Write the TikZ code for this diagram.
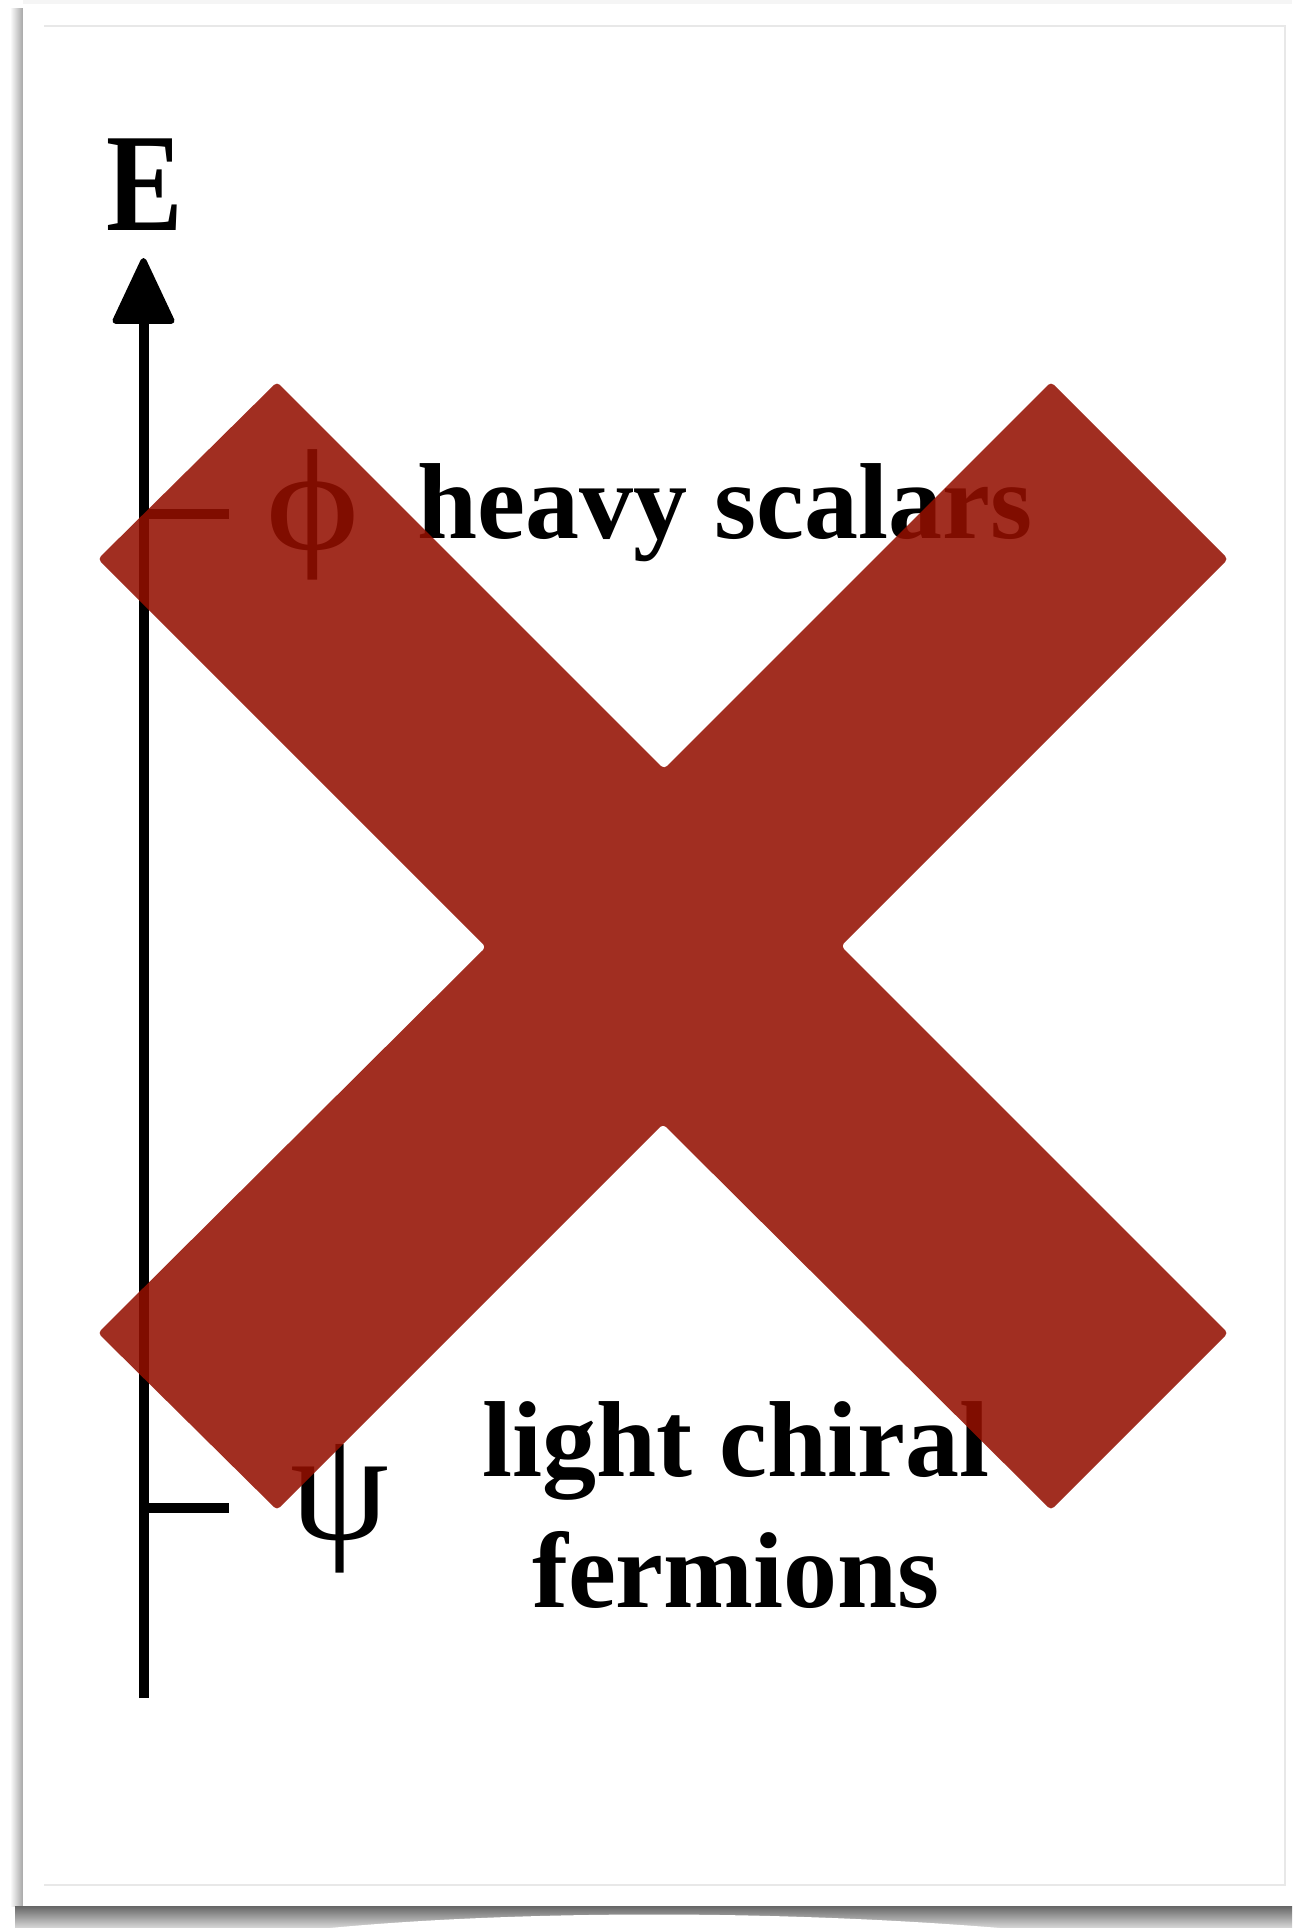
\documentclass[tikz,border=0pt]{standalone}
\usepackage{fontspec}
\setmainfont{Liberation Serif}
\usetikzlibrary{arrows.meta}
\definecolor{xred}{RGB}{148,15,0}
\definecolor{faint}{RGB}{232,232,232}
\tikzset{
  axisline/.style={line width=5pt,black},
  tickline/.style={line width=5pt,black},
  bigtext/.style={font=\fontsize{54}{65}\selectfont\bfseries,inner sep=0pt},
  greek/.style={inner sep=0pt},
  crossmark/.style={fill=xred,fill opacity=0.87,draw=none,rounded corners=2pt}
}
\begin{document}
\begin{tikzpicture}[x=0.5pt,y=-0.5pt]
\useasboundingbox (0,0) rectangle (1292,1928);
% shadow and card
\fill[white] (0,0) rectangle (1292,1928);
\shade[left color=white,right color=black!35] (10,8) rectangle (23,1906);
\shade[top color=black!60,bottom color=black!15] (15,1906) rectangle (1292,1928);
\fill[white] (330,1928) .. controls (520,1910) and (780,1910) .. (1000,1928) -- cycle;
\fill[black!4] (23,0) rectangle (1292,4);
\fill[white] (23,4) rectangle (1292,1906);
\draw[faint,line width=0.6pt] (44,26) -- (1285,26) -- (1285,1885) -- (44,1885);
% axis
\coordinate (axbot) at (143.5,1698);
\coordinate (axtop) at (143.5,258);
\draw[axisline,-{Triangle[length=35pt,width=32pt,round,line width=3pt]}] (axbot) -- (axtop);
\node[font=\fontsize{70}{80}\selectfont\bfseries,inner sep=0pt,anchor=base] (E) at (145,230) {\scalebox{0.82}[1]{E}};
% ticks
\coordinate (phiAx) at (139,514);
\coordinate (phiEnd) at (229,514);
\coordinate (psiAx) at (139,1508);
\coordinate (psiEnd) at (229,1508);
\draw[tickline] (phiAx) -- (phiEnd);
\draw[tickline] (psiAx) -- (psiEnd);
% labels
\node[greek,font=\fontsize{72}{80}\selectfont,anchor=base] (phi) at (313,549) {\scalebox{1.25}[1]{ϕ}};
\node[greek,font=\fontsize{79}{85}\selectfont,anchor=base] (psi) at (340,1539) {ψ};
\node[bigtext,anchor=base west] (heavy) at (417,538) {heavy scalars};
\node[bigtext,anchor=base] (lightA) at (736,1476) {light chiral};
\node[bigtext,anchor=base] (lightB) at (736,1607) {fermions};
% big cross
\fill[crossmark] (277,382) -- (664,769) -- (1051,382) -- (1228,559) -- (841,946)
  -- (1228,1333) -- (1051,1510) -- (663,1124) -- (277,1510) -- (98,1333)
  -- (486,947) -- (98,559) -- cycle;
\end{tikzpicture}
\end{document}
